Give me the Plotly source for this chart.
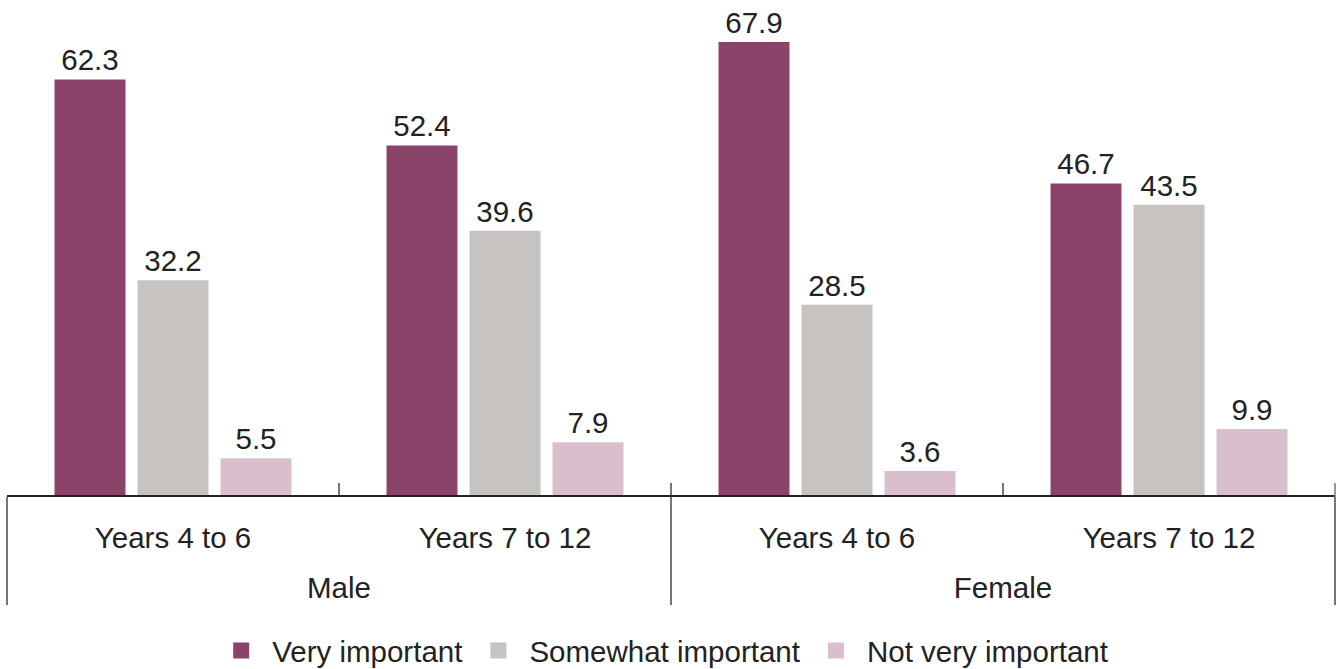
import plotly.graph_objects as go

outer = ["Male", "Male", "Female", "Female"]
inner = ["Years 4 to 6", "Years 7 to 12", "Years 4 to 6", "Years 7 to 12"]
series_names = ["Very important", "Somewhat important", "Not very important"]
very = [62.3, 52.4, 67.9, 46.7]
somewhat = [32.2, 39.6, 28.5, 43.5]
not_very = [5.5, 7.9, 3.6, 9.9]
colors = ["#8B4369", "#C7C3C0", "#D9BFCD"]

FONT = "Liberation Sans, Arial, sans-serif"
FS = 29.5
BASE = 26.5  # axis base font size (controls line spacing of multi-line labels)


def big(s):
    return f"<span style='font-size:{FS}px'>{s}</span>"


# outer-level labels pushed down one line to sit below the inner labels
outer_display = [big(" ") + "<br>" + big(o) for o in outer]
inner_display = [big(s) for s in inner]

fig = go.Figure()
for name, vals, col in zip(series_names, [very, somewhat, not_very], colors):
    fig.add_trace(go.Bar(
        x=[outer_display, inner_display], y=vals, name=name, marker_color=col,
        marker_line_width=0, showlegend=False,
        text=[f"{v:.1f}" for v in vals], textposition="outside",
        textfont=dict(size=FS, color="#222222", family=FONT), cliponaxis=False,
    ))
# legend entries (square markers, no drawn points)
for name, col in zip(series_names, colors):
    fig.add_trace(go.Scatter(
        x=[[outer_display[0]], [inner_display[0]]], y=[None], name=name,
        mode="markers", marker=dict(symbol="square", size=20, color=col),
        showlegend=True, hoverinfo="skip",
    ))

fig.update_layout(
    width=1338, height=669,
    margin=dict(l=7, r=3, t=8, b=174, autoexpand=False),
    plot_bgcolor="white", paper_bgcolor="white",
    font=dict(family=FONT, size=FS, color="#222222"),
    barmode="group", bargap=0.25, bargroupgap=0.145,
    showlegend=True,
    legend=dict(orientation="h", x=0.493, xanchor="center", y=-0.32, yanchor="middle",
                font=dict(size=FS, color="#222222", family=FONT), traceorder="normal",
                itemwidth=52, itemsizing="trace"),
    shapes=[dict(type="line", xref="paper", yref="paper", x0=1, x1=1,
                 y0=0.0246, y1=-0.218, line=dict(color="#777777", width=1.5))],
)
fig.update_xaxes(
    type="multicategory", showline=True, linecolor="#222222", linewidth=1.5,
    ticks="inside", ticklen=12, tickcolor="#777777", tickwidth=1.5,
    showdividers=True, dividercolor="#777777", dividerwidth=1.5,
    tickfont=dict(size=BASE, color="#222222", family=FONT), showgrid=False,
    automargin=False, ticklabelstandoff=19,
    range=[-0.5, 3.5],
)
fig.update_yaxes(range=[0, 73.0], visible=False, showgrid=False)

fig.write_html("out.html", config={"displayModeBar": False},
               post_script="document.body.style.margin='0';")
